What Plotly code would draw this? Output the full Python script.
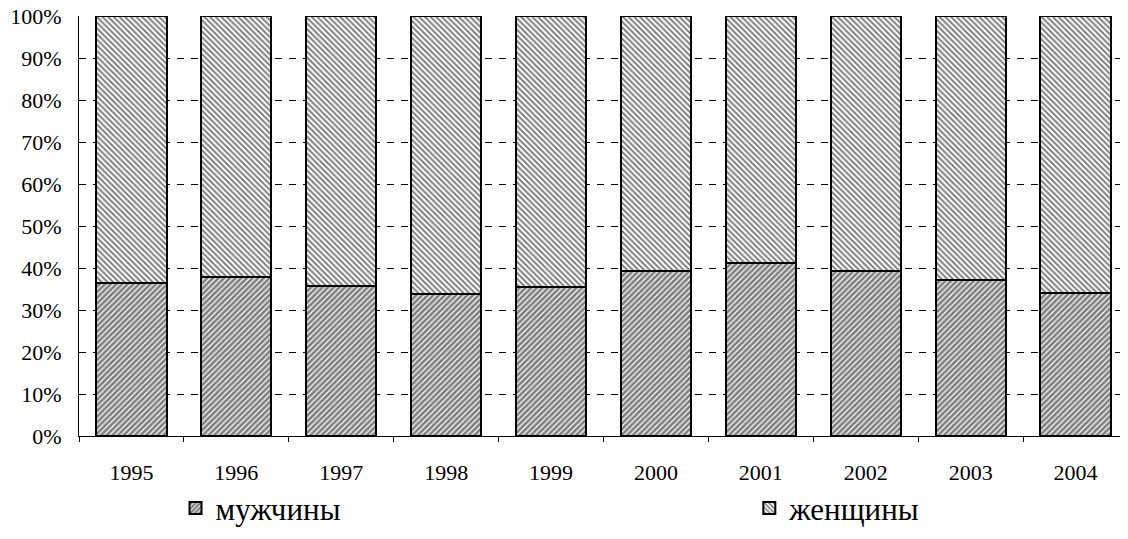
import plotly.graph_objects as go

years = ["1995", "1996", "1997", "1998", "1999", "2000", "2001", "2002", "2003", "2004"]
men = [36.5, 37.9, 35.6, 33.8, 35.5, 39.3, 41.1, 39.4, 37.1, 34.0]
women = [round(100 - m, 1) for m in men]
y_ticks = [0, 10, 20, 30, 40, 50, 60, 70, 80, 90, 100]
y_labels = [f"{v}%" for v in y_ticks]

font = "Liberation Serif"

fig = go.Figure()
fig.add_trace(go.Bar(
    x=years, y=men, name="мужчины", legend="legend",
    marker=dict(color="white", line=dict(color="black", width=2),
                pattern=dict(shape="/", fgcolor="black", bgcolor="white",
                             size=4, solidity=0.7)),
))
fig.add_trace(go.Bar(
    x=years, y=women, name="женщины", legend="legend2",
    marker=dict(color="white", line=dict(color="black", width=2),
                pattern=dict(shape="\\", fgcolor="black", bgcolor="white",
                             size=4, solidity=0.5)),
))

# page body has an 8px margin, so the figure is made 8px smaller
fig.update_layout(
    barmode="stack",
    bargap=0.33,
    width=1120, height=531,
    margin=dict(l=71, r=0, t=8, b=103, autoexpand=False),
    paper_bgcolor="white", plot_bgcolor="white",
    font=dict(family=font, color="black", size=22),
    legend=dict(x=0.092, xanchor="left", y=-0.172, yanchor="middle",
                font=dict(size=31, family=font)),
    legend2=dict(x=0.639, xanchor="left", y=-0.172, yanchor="middle",
                 font=dict(size=31, family=font)),
    showlegend=True,
)
fig.update_yaxes(
    range=[0, 100.0001], tickvals=y_ticks, ticktext=y_labels,
    showgrid=True, gridcolor="black", gridwidth=1, griddash="7px,7px",
    showline=True, linecolor="black", linewidth=1,
    ticks="", tickfont=dict(size=22, family=font), zeroline=False,
    ticklabeloverflow="allow", ticklabelstandoff=12,
)
fig.update_xaxes(
    showline=True, linecolor="black", linewidth=1,
    ticks="outside", tickson="boundaries", ticklen=5, tickcolor="black",
    tickfont=dict(size=22, family=font), showgrid=False,
    ticklabelstandoff=17,
)

fig.write_html("out.html")
